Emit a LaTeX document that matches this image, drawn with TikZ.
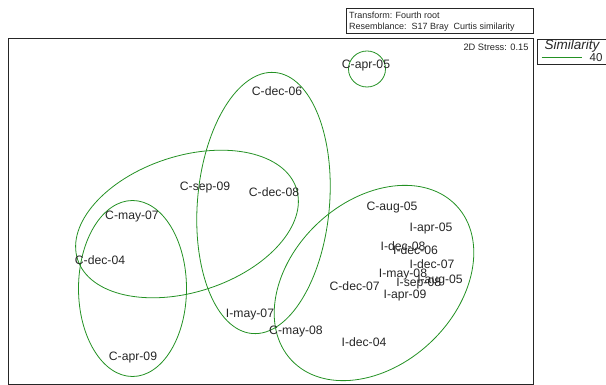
\documentclass[tikz,border=0pt]{standalone}
\usepackage{fontspec}
\setmainfont{Liberation Sans}
\usetikzlibrary{shapes.geometric}
\definecolor{grn}{RGB}{35,145,35}
\begin{document}
\begin{tikzpicture}[x=1pt,y=-1pt,
  lbl/.style={inner sep=0pt, text=black!85, font=\fontsize{12.2}{14}\selectfont},
  small/.style={inner sep=0pt, anchor=west, text=black!85, font=\fontsize{9}{10}\selectfont},
  contour/.style={draw=grn, line width=0.8pt, ellipse, inner sep=0pt},
  framebox/.style={draw=black!85, line width=0.8pt}]
\useasboundingbox (0,0) rectangle (606,385);
% frames
\draw[framebox] (8.5,38) rectangle (533,384.5);
\draw[framebox] (346.5,8) rectangle (533,33.5);
\draw[framebox] (537,39) rectangle (607,64.5);
\node[small] (t1) at (349,15) {Transform: Fourth root};
\node[small] (t2) at (349,27.5) {Resemblance:\ \ S17 Bray\ \ Curtis similarity};
\node[inner sep=0pt, text=black!85, font=\fontsize{9.3}{10}\selectfont] (stress) at (496,47) {2D Stress: 0.15};
\node[inner sep=0pt, text=black!85, font=\fontsize{13.5}{15}\selectfont\itshape] (simt) at (572,46) {Similarity};
\coordinate (la) at (541.5,57);
\coordinate (lb) at (582,57);
\draw[draw=grn, line width=0.8pt] (la) -- (lb);
\node[inner sep=0pt, text=black!85, font=\fontsize{11.5}{13}\selectfont] (forty) at (596,57.5) {40};
% contours
\node[contour, minimum width=37pt, minimum height=36pt] (e5) at (367,69) {};
\node[contour, minimum width=132pt, minimum height=262pt, rotate=-5] (e1) at (263.5,203) {};
\node[contour, minimum width=230pt, minimum height=136pt, rotate=18] (e2) at (187,224) {};
\node[contour, minimum width=108pt, minimum height=176pt] (e3) at (132.5,288.5) {};
\node[contour, minimum width=226pt, minimum height=164pt, rotate=43] (e4) at (374,283) {};
% labels
\node[lbl] (capr05) at (366,66) {C-apr-05};
\node[lbl] (cdec06) at (277,91) {C-dec-06};
\node[lbl] (csep09) at (205,188) {C-sep-09};
\node[lbl] (cdec08) at (274,192) {C-dec-08};
\node[lbl] (cmay07) at (132,217) {C-may-07};
\node[lbl] (cdec04) at (100,260) {C-dec-04};
\node[lbl] (capr09) at (133,358) {C-apr-09};
\node[lbl] (imay07) at (250,315) {I-may-07};
\node[lbl] (cmay08) at (296,332) {C-may-08};
\node[lbl] (idec04) at (364,342) {I-dec-04};
\node[lbl] (caug05) at (392,208) {C-aug-05};
\node[lbl] (iapr05) at (431,229) {I-apr-05};
\node[lbl] (idec08) at (403,246) {I-dec-08};
\node[lbl] (idec06) at (415.5,250) {I-dec-06};
\node[lbl] (idec07) at (432,264) {I-dec-07};
\node[lbl] (imay08) at (403,275) {I-may-08};
\node[lbl] (isep08) at (418.7,284) {I-sep-08};
\node[lbl] (iaug05) at (440,281) {I-aug-05};
\node[lbl] (iapr09) at (405,296) {I-apr-09};
\node[lbl] (cdec07) at (354.7,286) {C-dec-07};
\end{tikzpicture}
\end{document}
